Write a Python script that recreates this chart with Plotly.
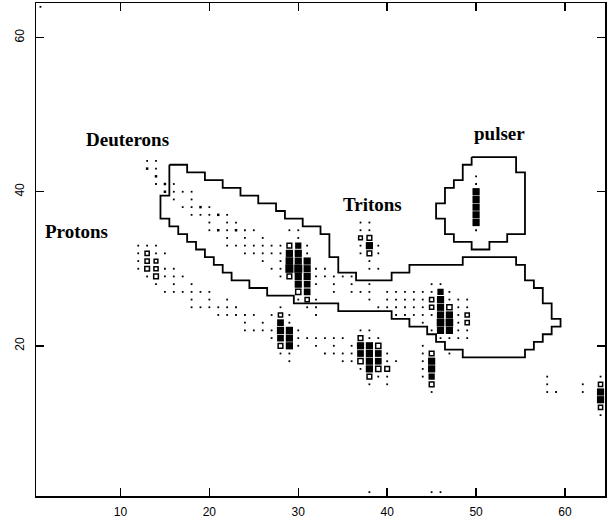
import plotly.graph_objects as go

# ---- 2D histogram cells (box plot): one entry per row (y bin) ----
row_y = [64, 44, 43, 42, 41, 40, 39, 38, 37, 36, 35, 34, 33, 32, 31, 30, 29, 28, 27, 26, 25, 24,
         23, 22, 21, 20, 19, 18, 17, 16, 15, 14, 13, 12, 11, 1]
row_x = [
    [1],
    [13, 14],
    [13, 14],
    [14, 50],
    [14, 15, 16, 50],
    [15, 16, 17, 18, 50],
    [16, 18, 50],
    [17, 18, 19, 20, 50],
    [18, 19, 20, 21, 22, 50],
    [20, 22, 23, 37, 38, 50],
    [20, 21, 22, 23, 24, 25, 29, 30, 37, 38, 50],
    [22, 24, 26, 30, 37, 38],
    [12, 13, 14, 22, 23, 24, 25, 26, 27, 28, 29, 30, 31, 37, 38, 39],
    [12, 13, 14, 15, 24, 25, 26, 27, 28, 29, 30, 31, 37, 38, 39],
    [12, 13, 14, 26, 28, 29, 30, 31, 38],
    [12, 13, 14, 15, 16, 27, 28, 29, 30, 31, 32, 33, 38, 39],
    [13, 14, 15, 16, 17, 28, 29, 30, 31, 32, 33, 34, 35, 36],
    [14, 16, 18, 30, 31, 32, 34, 36, 38, 45, 46],
    [15, 16, 17, 18, 19, 20, 30, 31, 34, 36, 37, 38, 40, 41, 42, 43, 44, 45, 46, 47],
    [18, 20, 22, 30, 31, 32, 38, 40, 41, 42, 43, 44, 45, 46, 47, 48, 49],
    [18, 19, 20, 21, 22, 23, 28, 31, 32, 39, 40, 41, 42, 43, 44, 45, 46, 47, 48, 49],
    [21, 22, 23, 24, 25, 27, 28, 29, 32, 41, 42, 43, 44, 45, 46, 47, 48, 49],
    [24, 26, 28, 29, 44, 46, 47, 48, 49],
    [24, 25, 26, 27, 28, 29, 30, 37, 38, 45, 46, 47, 48, 49],
    [27, 28, 29, 30, 31, 32, 33, 34, 35, 37, 38, 39, 46, 47, 48, 49],
    [28, 29, 30, 32, 34, 36, 37, 38, 39, 44],
    [28, 29, 33, 34, 35, 36, 37, 38, 39, 40, 44, 45, 47],
    [29, 35, 36, 37, 38, 39, 40, 41, 44, 45],
    [37, 38, 39, 40, 44, 45],
    [38, 39, 40, 44, 45, 58, 64],
    [38, 40, 45, 58, 62, 64],
    [45, 58, 59, 62, 64],
    [64],
    [64],
    [64],
    [38, 45, 46],
]
row_n = [
    [1],
    [1, 1],
    [2, 1],
    [2, 1],
    [1, 2, 1, 1],
    [2, 1, 1, 1, 10],
    [1, 1, 10],
    [1, 1, 2, 1, 10],
    [1, 1, 1, 2, 1, 10],
    [1, 1, 1, 1, 1, 10],
    [1, 2, 1, 2, 1, 1, 1, 1, 1, 1, 1],
    [1, 1, 1, 1, 3, 5],
    [1, 1, 1, 1, 1, 1, 1, 1, 1, 1, 5, 8, 1, 1, 10, 1],
    [1, 4, 1, 1, 1, 1, 1, 1, 1, 10, 10, 1, 1, 5, 1],
    [1, 4, 3, 1, 1, 11, 10, 10, 1],
    [1, 5, 4, 1, 1, 1, 1, 12, 12, 10, 1, 1, 1, 1],
    [1, 5, 1, 1, 1, 1, 5, 10, 10, 1, 1, 1, 1, 1],
    [1, 1, 1, 10, 9, 1, 1, 1, 1, 1, 1],
    [1, 1, 1, 1, 1, 1, 6, 9, 1, 1, 1, 1, 1, 1, 1, 1, 1, 1, 8, 1],
    [1, 1, 1, 1, 4, 1, 1, 1, 1, 1, 1, 1, 4, 10, 1, 1, 1],
    [1, 1, 1, 1, 1, 1, 1, 1, 1, 1, 1, 1, 1, 1, 1, 4, 10, 6, 1, 1],
    [1, 1, 1, 1, 1, 1, 4, 1, 1, 1, 1, 1, 1, 1, 10, 10, 1, 4],
    [1, 1, 9, 1, 1, 11, 11, 1, 4],
    [1, 1, 1, 1, 10, 10, 1, 1, 1, 1, 10, 10, 1, 1],
    [1, 9, 10, 1, 1, 1, 1, 1, 1, 5, 1, 1, 1, 1, 1, 1],
    [5, 10, 1, 1, 1, 1, 10, 10, 6, 1],
    [1, 1, 1, 1, 1, 1, 9, 10, 9, 1, 1, 5, 1],
    [1, 1, 1, 6, 10, 9, 1, 1, 1, 10],
    [1, 10, 6, 5, 1, 10],
    [5, 1, 1, 1, 8, 1, 1],
    [1, 1, 5, 1, 1, 4],
    [1, 1, 1, 1, 10],
    [10],
    [4],
    [1],
    [1, 1, 1],
]

# ---- graphical cuts ----
cut_x = [15.5, 17.5, 17.5, 19.5, 19.5, 21.5, 21.5, 23.5, 23.5, 25.5,
         25.5, 27.5, 27.5, 28.5, 28.5, 30.5, 30.5, 32.5, 32.5, 33.5,
         33.5, 34.5, 34.5, 36.5, 36.5, 40.5, 40.5, 42.5, 42.5, 48.5,
         48.5, 54.5, 54.5, 55.5, 55.5, 56.5, 56.5, 57.5, 57.5, 58.5,
         58.5, 59.5, 59.5, 58.5, 58.5, 57.5, 57.5, 56.5, 56.5, 55.5,
         55.5, 48.5, 48.5, 46.5, 46.5, 45.5, 45.5, 44.5, 44.5, 42.5,
         42.5, 40.5, 40.5, 34.5, 34.5, 29.5, 29.5, 26.5, 26.5, 24.5,
         24.5, 22.5, 22.5, 21.5, 21.5, 20.5, 20.5, 19.5, 19.5, 18.5,
         18.5, 17.5, 17.5, 16.5, 16.5, 15.5, 15.5, 14.5, 14.5, 15.5, 15.5]
cut_y = [43.5, 43.5, 42.5, 42.5, 41.5, 41.5, 40.5, 40.5, 39.5, 39.5,
         38.5, 38.5, 37.5, 37.5, 36.5, 36.5, 35.5, 35.5, 34.5, 34.5,
         31.5, 31.5, 29.5, 29.5, 28.5, 28.5, 29.5, 29.5, 30.5, 30.5,
         31.5, 31.5, 30.5, 30.5, 28.5, 28.5, 27.5, 27.5, 25.5, 25.5,
         23.5, 23.5, 22.5, 22.5, 21.5, 21.5, 20.5, 20.5, 19.5, 19.5,
         18.5, 18.5, 19.5, 19.5, 20.5, 20.5, 21.5, 21.5, 22.5, 22.5,
         23.5, 23.5, 24.5, 24.5, 25.5, 25.5, 26.5, 26.5, 27.5, 27.5,
         28.5, 28.5, 29.5, 29.5, 30.5, 30.5, 31.5, 31.5, 32.5, 32.5,
         33.5, 33.5, 34.5, 34.5, 35.5, 35.5, 36.5, 36.5, 39.5, 39.5, 43.5]
pulser_x = [49.5, 54.5, 54.5, 55.5, 55.5, 53.5, 53.5, 51.5, 51.5, 49.5, 49.5, 47.5, 47.5,
            46.5, 46.5, 45.5, 45.5, 46.5, 46.5, 47.5, 47.5, 48.5, 48.5, 49.5, 49.5]
pulser_y = [44.5, 44.5, 42.5, 42.5, 34.5, 34.5, 33.5, 33.5, 32.5, 32.5, 33.5, 33.5, 34.5,
            34.5, 36.5, 36.5, 38.5, 38.5, 40.5, 40.5, 41.5, 41.5, 43.5, 43.5, 44.5]

label_text = ["Protons", "Deuterons", "Tritons", "pulser"]
label_x = [5.0, 10.8, 38.4, 52.6]
label_y = [34.8, 46.8, 38.4, 47.6]

x_ticks = [10, 20, 30, 40, 50, 60]
y_ticks = [20, 40, 60]

# ---- flatten cells ----
xs, ys, ns = [], [], []
for yv, xl, nl in zip(row_y, row_x, row_n):
    for xv, nv in zip(xl, nl):
        xs.append(xv)
        ys.append(yv)
        ns.append(nv)

sizes, symbols, lws = [], [], []
for n in ns:
    if n <= 2:
        sizes.append(1.8 + 0.7 * (n - 1))
        symbols.append("square")
        lws.append(0)
    elif n < 8:
        sizes.append(2.2 + 0.5 * n)
        symbols.append("square-open")
        lws.append(1.5)
    else:
        sizes.append(2.6 + 0.46 * n)
        symbols.append("square")
        lws.append(0)

fig = go.Figure()
fig.add_trace(go.Scatter(
    x=xs, y=ys, mode="markers",
    marker=dict(symbol=symbols, size=sizes, color="black", opacity=1,
                line=dict(color="black", width=lws)),
    hoverinfo="skip", showlegend=False))
fig.add_trace(go.Scatter(x=cut_x, y=cut_y, mode="lines", hoverinfo="skip",
                         line=dict(color="black", width=1.8), showlegend=False))
fig.add_trace(go.Scatter(x=pulser_x, y=pulser_y, mode="lines", hoverinfo="skip",
                         line=dict(color="black", width=1.8), showlegend=False))

for t, lx, ly in zip(label_text, label_x, label_y):
    fig.add_annotation(x=lx, y=ly, text="<b>" + t + "</b>", showarrow=False,
                       font=dict(family="Liberation Serif", size=19, color="black"))

axis_common = dict(showgrid=False, zeroline=False, showline=True, linecolor="black",
                   linewidth=1.5, mirror="ticks", ticks="inside", ticklen=8,
                   tickwidth=1.5, tickcolor="black", automargin=False,
                   tickfont=dict(family="Liberation Sans", size=12, color="black"))
fig.update_xaxes(range=[0.5, 64.5], tickvals=x_ticks, ticklabelstandoff=4, **axis_common)
fig.update_yaxes(range=[0.5, 64.5], tickvals=y_ticks, tickangle=-90,
                 ticklabelstandoff=6, **axis_common)

fig.update_layout(width=613, height=521, plot_bgcolor="white", paper_bgcolor="white",
                  margin=dict(l=36, r=8, t=3, b=25, autoexpand=False), showlegend=False)

fig.write_html("out.html",
               config={"displayModeBar": False, "staticPlot": True},
               post_script="document.body.style.margin='0px';"
                           "document.body.style.overflow='hidden';")
